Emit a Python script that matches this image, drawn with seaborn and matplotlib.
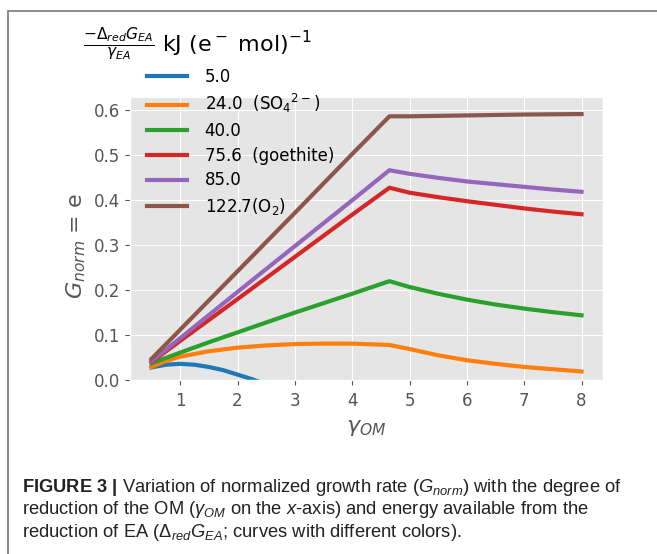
import matplotlib
matplotlib.use("Agg")
import matplotlib.pyplot as plt
import numpy as np
import pandas as pd
import seaborn as sns
from matplotlib.patches import Rectangle

# ---- data ----
series_names = ["5.0", "24.0", "40.0", "75.6", "85.0", "122.7"]
legend_labels = ["5.0", "24.0  (SO$_4$$^{2-}$)", "40.0", "75.6  (goethite)",
                 "85.0", "122.7$\\mathrm{(O_2)}$"]
colors = ["#1f77b4", "#ff7f0e", "#2ca02c", "#d62728", "#9467bd", "#8c564b"]

x_5 = [0.5, 0.75, 1.0, 1.25, 1.5, 1.75, 2.0, 2.25, 2.5, 2.75]
y_5 = [0.028, 0.034, 0.036, 0.034, 0.029, 0.022, 0.012, 0.002, -0.010, -0.024]

x_24 = [0.5, 0.75, 1.0, 1.5, 2.0, 2.5, 3.0, 3.5, 4.0, 4.65, 5.0, 5.5, 6.0, 6.5, 7.0, 7.5, 8.0]
y_24 = [0.029, 0.042, 0.052, 0.064, 0.072, 0.077, 0.080, 0.081, 0.081, 0.078,
        0.069, 0.055, 0.044, 0.036, 0.029, 0.024, 0.019]

x_40 = [0.5, 1.0, 1.5, 2.0, 3.0, 4.0, 4.65, 5.0, 5.5, 6.0, 6.5, 7.0, 7.5, 8.0]
y_40 = [0.037, 0.061, 0.084, 0.106, 0.150, 0.192, 0.220,
        0.207, 0.192, 0.179, 0.168, 0.159, 0.151, 0.144]

x_756 = [0.5, 1.0, 2.0, 3.0, 4.0, 4.65, 5.0, 5.5, 6.0, 6.5, 7.0, 7.5, 8.0]
y_756 = [0.040, 0.087, 0.180, 0.274, 0.368, 0.428,
         0.417, 0.407, 0.398, 0.390, 0.382, 0.375, 0.369]

x_85 = [0.5, 1.0, 2.0, 3.0, 4.0, 4.65, 5.0, 5.5, 6.0, 6.5, 7.0, 7.5, 8.0]
y_85 = [0.042, 0.093, 0.196, 0.298, 0.400, 0.467,
        0.459, 0.450, 0.442, 0.436, 0.430, 0.424, 0.419]

x_1227 = [0.5, 1.0, 2.0, 3.0, 4.0, 4.65, 5.0, 6.0, 7.0, 8.0]
y_1227 = [0.047, 0.112, 0.242, 0.372, 0.503, 0.587, 0.587, 0.589, 0.591, 0.592]

xs = [x_5, x_24, x_40, x_756, x_85, x_1227]
ys = [y_5, y_24, y_40, y_756, y_85, y_1227]

frames = []
for name, xv, yv in zip(series_names, xs, ys):
    frames.append(pd.DataFrame({"gamma_OM": xv, "G": yv, "energy": name}))
df = pd.concat(frames, ignore_index=True)

# ---- style ----
plt.style.use("ggplot")
plt.rcParams["mathtext.rm"] = "Liberation Sans"
plt.rcParams["mathtext.it"] = "Liberation Sans:italic"
plt.rcParams["mathtext.bf"] = "Liberation Sans:bold"

fig = plt.figure(figsize=(6.57, 5.54), dpi=100)
fig.patch.set_facecolor("white")
W, H = 657.0, 554.0
ax = fig.add_axes([130 / W, 1 - 380 / H, (603 - 130) / W, (380 - 97) / H])

sns.lineplot(data=df, x="gamma_OM", y="G", hue="energy", hue_order=series_names,
             palette=colors, sort=False, estimator=None, linewidth=3,
             legend=False, ax=ax)

ax.set_xlim(0.125, 8.375)
ax.set_ylim(0.0, 0.63)
ax.set_xticks([1, 2, 3, 4, 5, 6, 7, 8])
ax.set_yticks([0.0, 0.1, 0.2, 0.3, 0.4, 0.5, 0.6])
ax.set_yticklabels(["0.0", "0.1", "0.2", "0.3", "0.4", "0.5", "0.6"])
ax.tick_params(axis="both", labelsize=12, colors="#555555", labelcolor="#555555")
ax.tick_params(axis="x", pad=5)
ax.set_xlabel(r"$\gamma_{OM}$", fontsize=16, color="#555555", labelpad=6)
ax.set_ylabel(r"$G_{norm}$ = e", fontsize=16, color="#555555", labelpad=4)
ax.yaxis.label.set_y(0.475)

# legend
handles = ax.get_lines()[:len(series_names)]
leg = fig.legend(handles, legend_labels, loc="upper left",
                 bbox_to_anchor=(140.5 / W, 1 - 61 / H), borderaxespad=0,
                 frameon=False, fontsize=12, handlelength=2.4,
                 handletextpad=1.05, labelspacing=0.4)
for t in leg.get_texts():
    t.set_color("black")

fig.text(83 / W, 1 - 44.5 / H,
         r"$\frac{-\Delta_{red}G_{EA}}{\gamma_{EA}}$ kJ (e$^-$ mol)$^{-1}$",
         fontsize=16, ha="left", va="center", color="black")

# border
fig.add_artist(Rectangle((8 / W, -0.2), 1.2, 1 - 11 / H + 0.2,
                         transform=fig.transFigure, fill=False,
                         edgecolor="#777777", linewidth=1.2, clip_on=False))

# caption
cap_lines = [
    r"$\mathbf{FIGURE\ 3\ |}$ Variation of normalized growth rate ($G_{norm}$) with the degree of",
    r"reduction of the OM ($\gamma_{OM}$ on the $x$-axis) and energy available from the",
    r"reduction of EA ($\Delta_{red}G_{EA}$; curves with different colors).",
]
for i, line in enumerate(cap_lines):
    fig.text(22 / W, 1 - (487.5 + 22.5 * i) / H, line, fontsize=13.2,
             family="Liberation Sans", math_fontfamily="custom",
             ha="left", va="center", color="#222222")

fig.savefig("out.png", dpi=100, facecolor="white")
